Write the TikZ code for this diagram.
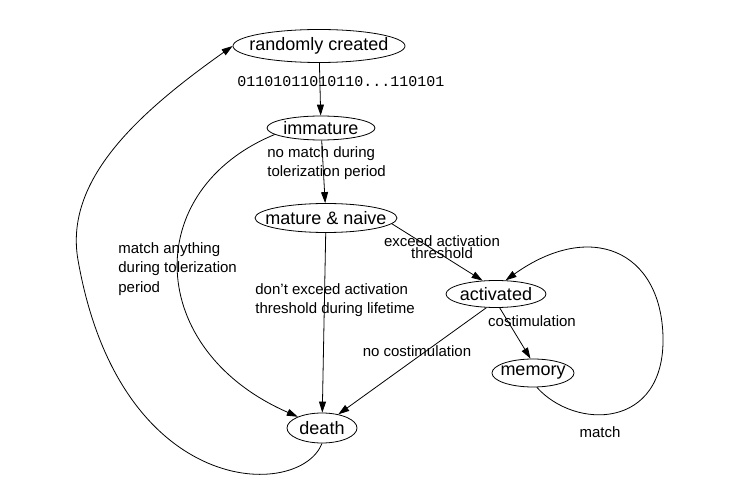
\documentclass[tikz,border=0pt]{standalone}
\usepackage{fontspec}
\setmainfont{Liberation Sans}
\setmonofont{Liberation Mono}
\usetikzlibrary{shapes.geometric,arrows.meta}

\begin{document}
\begin{tikzpicture}[x=1pt,y=-1pt,line width=0.8pt,
  >={Triangle[length=11pt,width=7pt]},
  state/.style={draw,ellipse,inner sep=0pt,
    label={[inner sep=0pt,font=\fontsize{18}{20}\selectfont]center:#1}},
  lbl/.style={inner sep=0pt,align=left,anchor=west,font=\fontsize{15}{19.5}\selectfont}]
\useasboundingbox (0,0) rectangle (736,494);
% states
\node[state={randomly created},minimum width=172,minimum height=33] (created) at (319,46) {};
\node[state={immature},minimum width=108,minimum height=24] (immature) at (321,128) {};
\node[state={mature \& naive},minimum width=142,minimum height=29] (naive) at (326,218) {};
\node[state={activated},minimum width=100,minimum height=27] (activated) at (496,294) {};
\node[state={memory},minimum width=82,minimum height=28] (memory) at (533,373) {};
\node[state={death},minimum width=70,minimum height=30] (death) at (322,428) {};
% edge labels
\node[inner sep=0pt,font=\ttfamily\fontsize{15}{18}\selectfont] (bits) at (341,82) {01101011010110...110101};
\node[lbl] (nomatch) at (267,163) {no match during\\tolerization period};
\node[lbl] (matchany) at (118,269) {match anything\\during tolerization\\period};
\node[lbl] (noexceed) at (255,300) {don't exceed activation\\threshold during lifetime};
\node[lbl,align=center,anchor=center,font=\fontsize{15}{12}\selectfont] (exceed) at (442,247) {exceed activation\\threshold};
\node[lbl,anchor=center] (costim) at (532,321) {costimulation};
\node[lbl,anchor=center] (nocostim) at (417,351) {no costimulation};
\node[lbl,anchor=center] (match) at (600,432) {match};
% transitions
\draw[->] (created) -- (immature);
\draw[->] (immature) -- (naive);
\draw[->] (naive.-5) -- (activated.135);
\draw[->] (naive) -- (death);
\draw[->] (activated.-75) -- (memory.100);
\draw[->] (activated.-125) -- (death.40);
\draw[->] (immature.188) .. controls (140,190) and (145,350) .. (death.155);
\draw[->] (death.-90) .. controls (300,500) and (120,500) .. (78,260)
  .. controls (64,180) and (138,113) .. (created.west);
\draw[->] (memory.-75) .. controls (575,430) and (665,430) .. (663,337)
  .. controls (661,250) and (590,220) .. (activated.55);
\end{tikzpicture}
\end{document}
